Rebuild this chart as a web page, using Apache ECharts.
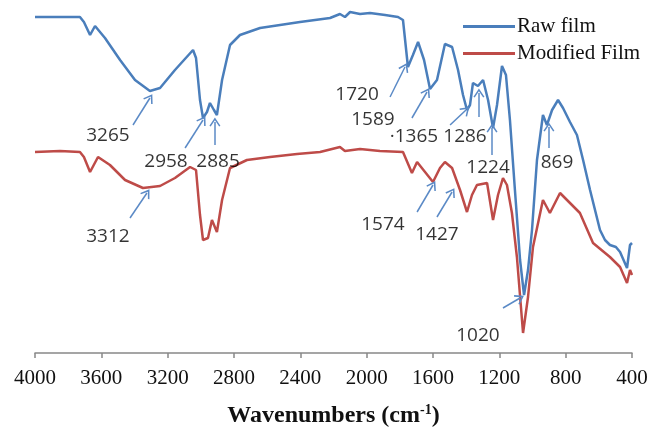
<!DOCTYPE html>
<html>
<head>
<meta charset="utf-8">
<script src="https://cdn.jsdelivr.net/npm/echarts@6/dist/echarts.min.js"></script>
<style>
  html, body { margin: 0; padding: 0; background: #fff; }
  #chart { width: 651px; height: 427px; }
</style>
</head>
<body>
<div id="chart"></div>
<script>
  // wavenumber ticks (cm-1), axis runs 4000 -> 400
  var xTicks = [4000, 3600, 3200, 2800, 2400, 2000, 1600, 1200, 800, 400];

  // Raw film, [wavenumber, transmittance (arb.)]
  var rawFilm = [
    [4000,336],[3849,336],[3729,336],[3705,331],[3668,318],[3638,327],[3578,315],[3487,293],
    [3397,273],[3307,262],[3246,265],[3156,283],[3047,303],[3029,295],[3005,253],[2987,235],
    [2963,241],[2945,250],[2921,243],[2903,238],[2872,273],[2824,308],[2764,318],[2643,325],
    [2402,331],[2221,335],[2161,339],[2131,336],[2100,341],[2040,339],[1980,340],[1889,338],
    [1811,336],[1781,333],[1751,286],[1721,298],[1690,311],[1654,293],[1618,264],[1576,273],
    [1528,309],[1485,306],[1449,283],[1419,258],[1395,243],[1377,248],[1359,270],[1329,267],
    [1298,273],[1268,253],[1238,225],[1214,248],[1184,287],[1160,278],[1136,233],[1106,163],
    [1075,93],[1051,58],[1027,83],[1003,123],[973,193],[937,238],[913,228],[882,243],
    [846,253],[816,245],[774,231],[732,218],[695,193],[653,163],[593,123],[563,113],
    [533,108],[497,106],[472,101],[430,85],[412,108],[400,110]
  ];

  // Modified film
  var modifiedFilm = [
    [4000,201],[3849,202],[3729,201],[3705,196],[3668,181],[3620,196],[3548,188],[3457,173],
    [3349,165],[3246,167],[3156,175],[3065,186],[3029,183],[3005,138],[2987,113],[2957,115],
    [2933,133],[2903,121],[2872,153],[2824,185],[2722,193],[2583,196],[2420,199],[2281,201],
    [2161,206],[2131,202],[2040,204],[1920,202],[1781,201],[1727,180],[1696,191],[1648,181],
    [1600,171],[1558,185],[1528,191],[1485,185],[1437,163],[1395,141],[1365,158],[1335,168],
    [1274,170],[1238,133],[1208,158],[1178,175],[1154,168],[1124,140],[1094,96],[1057,20],
    [1027,56],[997,106],[937,153],[895,140],[834,160],[774,150],[714,140],[635,110],
    [533,96],[472,86],[430,70],[412,83],[400,78]
  ];

  // peak labels: [wavenumber, level, text]
  var peakLabels = [
    [3560,217,'3265'],[3210,191,'2958'],[2896,191,'2885'],[2058,258,'1720'],
    [1962,233,'1589'],[1715,216,'\u00b71365'],[1407,216,'1286'],[1268,185,'1224'],
    [852,190,'869'],[3560,116,'3312'],[1902,128,'1574'],[1576,118,'1427'],[1329,17,'1020']
  ];

  // arrows: [fromW, fromV, toW, toV]
  var peakArrows = [
    [3409,228,3307,255],[3095,205,2987,233],[2915,208,2915,231],[1859,256,1769,286],
    [1727,235,1636,261],[1497,228,1401,243],[1323,236,1323,260],[1244,198,1244,225],
    [901,205,901,226],[3427,135,3325,160],[1696,141,1600,168],[1576,136,1485,161],
    [1178,45,1075,55]
  ];

  var chart = echarts.init(document.getElementById('chart'));

  var chevron = 'path://M0,0L6,8L4.6,8.8L0,2.8L-4.6,8.8L-6,8Z';

  var option = {
    animation: false,
    backgroundColor: '#fff',
    grid: {left: 35, right: 19, top: 10, bottom: 74, outerBoundsMode: 'none'},
    legend: {
      data: ['Raw film', 'Modified Film'],
      orient: 'vertical',
      left: 458,
      top: 11,
      icon: 'rect',
      itemWidth: 52,
      itemHeight: 3,
      itemGap: 6,
      textStyle: {fontFamily: 'Liberation Serif', fontSize: 21, color: '#111', padding: [0, 0, 0, -3]}
    },
    xAxis: {
      type: 'value',
      inverse: true,
      min: 400,
      max: 4000,
      interval: 400,
      splitLine: {show: false},
      axisLine: {lineStyle: {color: '#888', width: 1.5}},
      axisTick: {length: 5, lineStyle: {color: '#888', width: 1.5}},
      axisLabel: {
        fontFamily: 'Liberation Serif', fontSize: 21, color: '#111', margin: 15,
        formatter: function (v) { return String(v); }
      },
      name: 'Wavenumbers (cm{sup|-1})',
      nameLocation: 'middle',
      nameGap: 50,
      nameTextStyle: {
        fontFamily: 'Liberation Serif', fontSize: 24, fontWeight: 'bold', color: '#111',
        rich: {sup: {fontFamily: 'Liberation Serif', fontSize: 14, fontWeight: 'bold', verticalAlign: 'top', padding: [0, 0, 12, 0], color: '#111'}}
      }
    },
    yAxis: {type: 'value', min: 0, max: 343, show: false},
    series: [
      {
        name: 'Raw film',
        type: 'line',
        symbol: 'none',
        data: rawFilm,
        lineStyle: {color: '#4a7ebb', width: 2.5},
        itemStyle: {color: '#4a7ebb'},
        z: 3
      },
      {
        name: 'Modified Film',
        type: 'line',
        symbol: 'none',
        data: modifiedFilm,
        lineStyle: {color: '#be4b48', width: 2.5},
        itemStyle: {color: '#be4b48'},
        z: 2
      },
      {
        name: 'arrows',
        type: 'line',
        data: [],
        silent: true,
        markLine: {
          silent: true,
          symbol: ['none', chevron],
          symbolSize: [11, 9],
          label: {show: false},
          lineStyle: {color: '#5b8ac6', width: 1.5, type: 'solid'},
          data: peakArrows.map(function (a) {
            return [{coord: [a[0], a[1]]}, {coord: [a[2], a[3]]}];
          })
        }
      },
      {
        name: 'labels',
        type: 'scatter',
        symbolSize: 0,
        silent: true,
        data: peakLabels,
        label: {
          show: true,
          position: 'inside',
          formatter: function (p) { return p.value[2]; },
          fontFamily: 'Open Sans',
          fontSize: 19,
          color: '#000'
        },
        z: 5
      }
    ]
  };

  chart.setOption(option);
</script>
</body>
</html>
